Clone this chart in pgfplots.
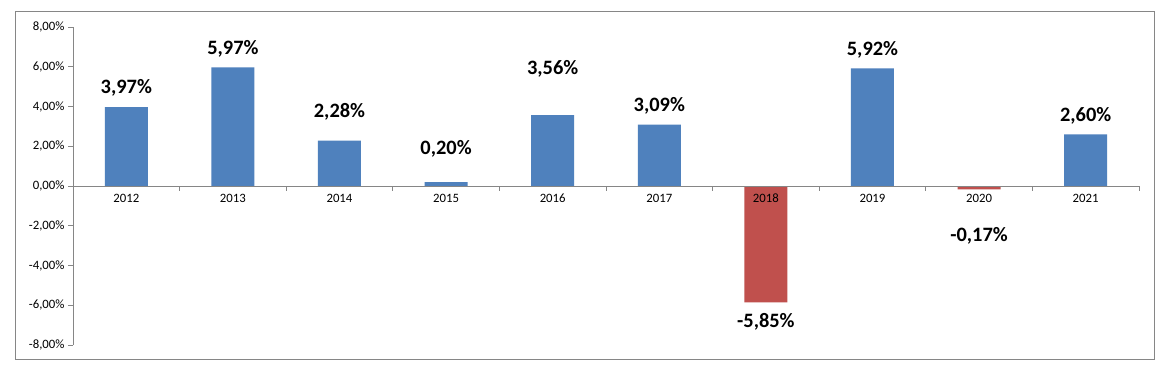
\documentclass[border=0pt]{standalone}
\usepackage{fontspec}
\setmainfont{Carlito}
\usepackage{pgfplots}
\pgfplotsset{compat=1.18}
\definecolor{barblue}{HTML}{4F81BD}
\definecolor{barred}{HTML}{C0504D}
\definecolor{axgray}{HTML}{868686}
\begin{document}
\begin{tikzpicture}[x=1bp,y=1bp]
\path[use as bounding box, fill=white] (0,0) rectangle (1171,373);
\draw[axgray, line width=1bp] (15,14) rectangle (1154,361);
\begin{axis}[
  at={(73bp,28bp)}, anchor=south west,
  scale only axis, width=1066bp, height=318bp,
  xmin=-0.5, xmax=9.5, ymin=-8, ymax=8,
  axis y line*=left, axis x line*=middle,
  axis on top,
  axis line style={axgray, line width=0.9bp},
  tick style={axgray, line width=0.9bp},
  tick align=outside,
  major tick length=5bp,
  xtick={-0.5,0.5,...,9.5}, xticklabels={},
  extra x ticks={0,1,...,9},
  extra x tick labels={2012,2013,2014,2015,2016,2017,2018,2019,2020,2021},
  extra x tick style={major tick length=0pt, tick label style={yshift=-4bp, text height=9bp, text depth=0pt}},
  ytick={-8,-6,...,8},
  /pgf/number format/assume math mode=true,
  yticklabel={\pgfmathprintnumber[fixed,fixed zerofill,precision=2,use comma]{\tick}\%},
  tick label style={font=\fontsize{12.8}{14}\selectfont, text=black},
  clip=false,
]
\addplot[ybar, bar width=43bp, bar shift=0pt, fill=barblue, draw=none] coordinates {
 (0,3.97) (1,5.97) (2,2.28) (3,0.20) (4,3.56) (5,3.09) (7,5.92) (9,2.60)};
\addplot[ybar, bar width=43bp, bar shift=0pt, fill=barred, draw=none] coordinates {
 (6,-5.85) (8,-0.17)};
\addplot[draw=none, point meta=explicit,
  nodes near coords={\pgfmathprintnumber[fixed,fixed zerofill,precision=2,use comma]{\pgfplotspointmeta}\%},
  nodes near coords style={anchor=center, text=black, font=\bfseries\fontsize{20.5}{23}\selectfont}]
 table[x=x, y=ly, meta=v] {
x ly v
0 4.93 3.97
1 6.89 5.97
2 3.72 2.28
3 1.86 0.20
4 5.89 3.56
5 4.03 3.09
6 -6.84 -5.85
7 6.84 5.92
8 -2.52 -0.17
9 3.52 2.60
};
\end{axis}
\end{tikzpicture}
\end{document}
